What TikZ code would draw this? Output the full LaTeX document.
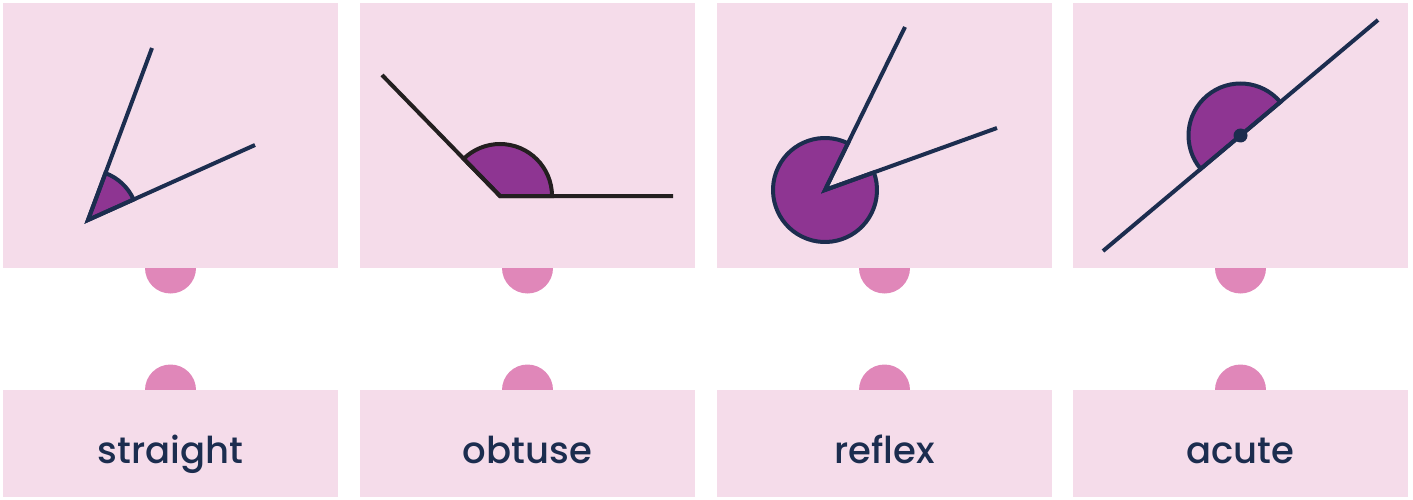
\documentclass[tikz,border=0pt]{standalone}
\usepackage{fontspec}
\setmainfont{Poppins}[UprightFont=* Medium]
\definecolor{cardpink}{HTML}{F5DCEA}
\definecolor{tabpink}{HTML}{E087B9}
\definecolor{anglefill}{HTML}{8E3592}
\definecolor{linenavy}{HTML}{1C2D4F}
\definecolor{lineblack}{HTML}{231F20}
\begin{document}
\begin{tikzpicture}[x=0.5pt,y=0.5pt,
  card/.style={fill=cardpink},
  tab/.style={fill=tabpink},
  ray/.style={draw=linenavy,line width=2pt,line join=miter},
  sector/.style={fill=anglefill,draw=linenavy,line width=2pt,line join=miter},
  word/.style={anchor=base,text=linenavy,font=\fontsize{18.5}{20}\selectfont}]
  \useasboundingbox (0,0) rectangle (1413,499);

  %tabs
  \foreach \cx in {170.5,527.5,884.5,1240.5}{
    \fill[tab] (\cx,231) circle (25.5);
    \fill[tab] (\cx,109) circle (25.5);
  }

  %cards
  \foreach \x in {3,360,717,1073}{
    \fill[card] (\x,231) rectangle ++(335,265); %上のカード
    \fill[card] (\x,2) rectangle ++(335,107); %下のカード
  }

  %acute (first card)
  \coordinate (va) at (88,279);
  \filldraw[sector] (va) -- ++(24.2:50) arc (24.2:69.6:50) -- cycle;
  \draw[ray] (152,451) -- (va) -- (255,354);

  %obtuse
  \coordinate (vb) at (500,303);
  \filldraw[sector,draw=lineblack] (vb) -- ++(0:52) arc (0:134.3:52) -- cycle;
  \draw[ray,draw=lineblack] (382,424) -- (vb) -- (673,303);

  %reflex
  \coordinate (vc) at (825,309);
  \filldraw[sector] (vc) -- ++(63.9:52) arc (63.9:379.8:52) -- cycle;
  \draw[ray] (905,472) -- (vc) -- (997,371);

  %straight
  \coordinate (vd) at (1240.5,363.5);
  \filldraw[sector] (vd) -- ++(40:52) arc (40:220:52) -- cycle;
  \draw[ray] (1103,248) -- (1378,479);
  \fill[linenavy] (vd) circle (7);

  %labels
  \node[word] (straight) at (170.5,36) {straight};
  \node[word] (obtuse) at (527.5,36) {obtuse};
  \node[word] (reflex) at (884.5,36) {reflex};
  \node[word] (acute) at (1240.5,36) {acute};
\end{tikzpicture}
\end{document}
